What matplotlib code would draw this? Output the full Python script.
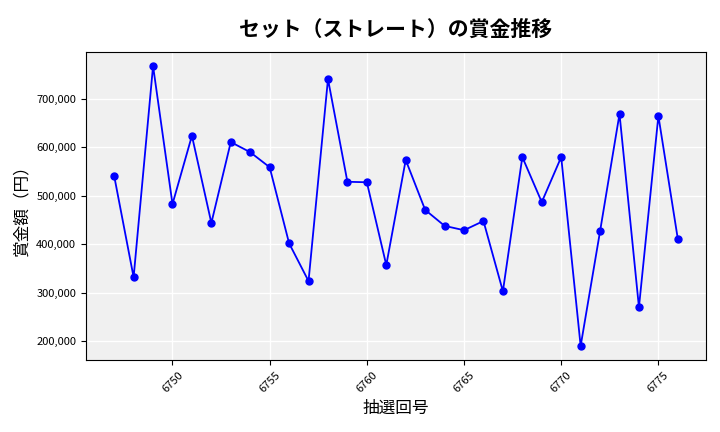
import matplotlib
matplotlib.use("Agg")
import matplotlib.pyplot as plt
from matplotlib.ticker import FuncFormatter

plt.rcParams["font.family"] = ["Noto Sans CJK JP", "DejaVu Sans"]

draws = list(range(6747, 6777))
prizes = [541000, 332000, 768000, 483000, 624000, 444000, 611000, 590000, 559000, 402000,
          324000, 741000, 529000, 528000, 357000, 574000, 471000, 438000, 429000, 448000,
          303000, 580000, 487000, 580000, 190000, 427000, 669000, 270000, 665000, 411000]
title = "セット（ストレート）の賞金推移"
xlabel = "抽選回号"
ylabel = "賞金額（円）"

fig = plt.figure(figsize=(7.2, 4.32), dpi=100)
ax = fig.add_axes([86/720, 1-360/432, 620/720, 308/432])
ax.set_facecolor("#f0f0f0")
ax.grid(True, color="white", linewidth=1)
ax.set_axisbelow(True)
ax.plot(draws, prizes, color="blue", marker="o", markersize=5, linewidth=1.3)
ax.set_title(title, fontsize=15, fontweight="bold", pad=12)
ax.set_xlabel(xlabel, fontsize=12)
ax.set_ylabel(ylabel, fontsize=12)
ax.yaxis.set_major_formatter(FuncFormatter(lambda v, p: f"{int(v):,}"))
ax.set_xticks([6750, 6755, 6760, 6765, 6770, 6775])
ax.tick_params(axis="x", labelrotation=45, labelsize=8)
ax.tick_params(axis="y", labelsize=8)
fig.savefig("out.png", dpi=100)
